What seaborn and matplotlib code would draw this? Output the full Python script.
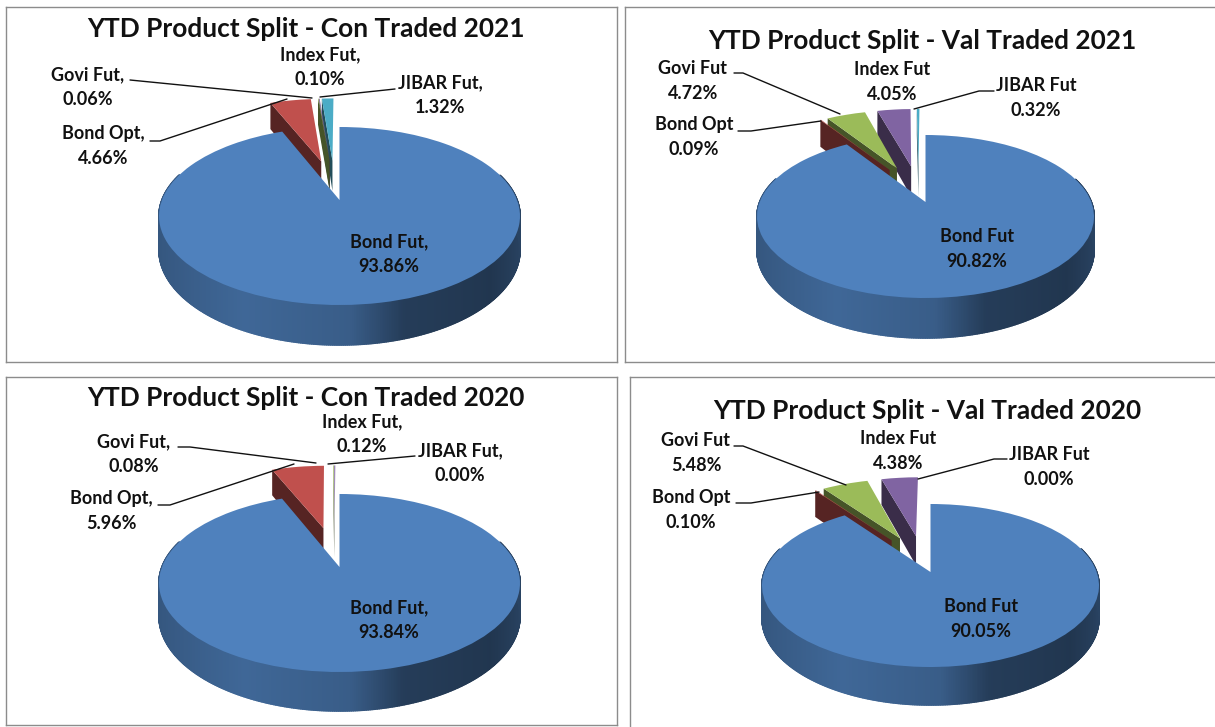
import numpy as np
import matplotlib
matplotlib.use('Agg')
import matplotlib.pyplot as plt
import seaborn as sns
from matplotlib.collections import PolyCollection
from matplotlib.transforms import Transform

products = ['Bond Fut', 'Bond Opt', 'Govi Fut', 'Index Fut', 'JIBAR Fut']
con_2021 = [93.86, 4.66, 0.06, 0.10, 1.32]
val_2021 = [90.82, 0.09, 4.72, 4.05, 0.32]
con_2020 = [93.84, 5.96, 0.08, 0.12, 0.00]
val_2020 = [90.05, 0.10, 5.48, 4.38, 0.00]
titles = ['YTD Product Split - Con Traded 2021', 'YTD Product Split - Val Traded 2021',
          'YTD Product Split - Con Traded 2020', 'YTD Product Split - Val Traded 2020']
colors = ['#4F81BD', '#C0504D', '#9BBB59', '#8064A2', '#4BACC6']
explode = [0.15, 0.35, 0.35, 0.35, 0.35]

# layout em pixels da figura
W, H = 1215, 727
panels = [
    dict(values=con_2021, title=titles[0], comma=True, box=(6, 7, 617, 362), title_xy=(306, 29),
         left=159, right=520, top=127, apex=200, front=305, bottom=345,
         labels=[(389, 254), (103, 146), (88, 87), (320, 67), (440, 95)],
         lines=[[(130, 80), (312, 98)], [(395, 89), (320, 97)], [(150, 141), (160, 141), (287, 99)]]),
    dict(values=val_2021, title=titles[1], comma=False, box=(625, 7, 1220, 362), title_xy=(922, 41),
         left=757, right=1094, top=135, apex=202, front=298, bottom=338,
         labels=[(977, 249), (694, 137), (693, 81), (892, 82), (1036, 98)],
         lines=[[(734, 73), (743, 73), (840, 114)], [(994, 91), (979, 91), (914, 109)],
                [(738, 131), (751, 131), (821, 121)]]),
    dict(values=con_2020, title=titles[2], comma=True, box=(6, 377, 617, 725), title_xy=(306, 398),
         left=159, right=520, top=494, apex=567, front=672, bottom=711,
         labels=[(389, 620), (111, 511), (134, 454), (362, 434), (460, 463)],
         lines=[[(178, 447), (190, 447), (316, 463)], [(415, 456), (328, 464)],
                [(158, 505), (170, 505), (294, 464)]]),
    dict(values=val_2020, title=titles[3], comma=False, box=(630, 377, 1220, 732), title_xy=(927, 411),
         left=762, right=1099, top=504, apex=572, front=667, bottom=705,
         labels=[(981, 619), (691, 510), (696, 453), (898, 451), (1049, 467)],
         lines=[[(734, 446), (743, 446), (846, 485)], [(1007, 459), (994, 459), (918, 479)],
                [(736, 503), (751, 503), (819, 492)]]),
]


class PerspTransform(Transform):
    # leva o disco unitario da pizza para os pixels, com perspectiva
    input_dims = 2
    output_dims = 2
    has_inverse = False

    def __init__(self, cx, cy, a, k, m, drop=0.0):
        super().__init__()
        self.cx, self.cy, self.a, self.k, self.m, self.drop = cx, cy, a, k, m, drop

    def transform_non_affine(self, values):
        xy = np.asarray(values, dtype=float)
        s = 1 / (1 + self.m * xy[:, 1])
        return np.column_stack([self.cx + self.a * xy[:, 0] * s,
                                self.cy - self.k * xy[:, 1] * s + self.drop * s])


def shade(color, f):
    return tuple(np.array(matplotlib.colors.to_rgb(color)) * f)


sns.set_theme(style='white')
plt.rcParams['font.family'] = ['Lato', 'DejaVu Sans']

fig = plt.figure(figsize=(W / 100, H / 100), dpi=100, facecolor='white')

for p in panels:
    x0, y0, x1, y1 = p['box']
    ax = fig.add_axes([x0 / W, 1 - y1 / H, (x1 - x0) / W, (y1 - y0) / H])

    rt = p['apex'] - p['top']
    rb = p['front'] - p['apex']
    m = (rb - rt) / (rb + rt)
    k = rt * (1 + m)
    a = (p['right'] - p['left']) / 2 * np.sqrt(1 - m ** 2)
    cx = (p['right'] + p['left']) / 2
    drop = (p['bottom'] - p['front']) * (1 - m)
    top_tf = PerspTransform(cx, p['apex'], a, k, m)
    low_tf = PerspTransform(cx, p['apex'], a, k, m, drop)

    wedges, _ = ax.pie(p['values'], colors=colors, explode=explode, startangle=90,
                       counterclock=False, frame=True, radius=1,
                       wedgeprops={'linewidth': 0})
    ax.set_aspect('auto')

    # a fatia maior fica no apice medido, as outras andam junto
    bx, by = wedges[0].center
    for w in wedges:
        w.set_center((w.center[0] - bx, w.center[1] - by))

    for i, w in enumerate(wedges):
        w.set_transform(top_tf + ax.transData)
        if i == 0:
            # parede externa da fatia maior, em degrade
            th = np.radians(np.arange(w.theta1, w.theta2, 0.5))
            th = np.append(th, np.radians(w.theta2))
            xs, ys = np.cos(th), np.sin(th)
            up = top_tf.transform(np.column_stack([xs, ys]))
            lo = low_tf.transform(np.column_stack([xs, ys]))
            quads, cols = [], []
            for j in range(len(th) - 1):
                if ys[j] > 0.3 and ys[j + 1] > 0.3:
                    continue
                quads.append([up[j], up[j + 1], lo[j + 1], lo[j]])
                f = np.interp(xs[j], [-1, -0.45, 0.05, 0.3, 0.75, 1], [0.66, 0.80, 0.72, 0.47, 0.42, 0.52])
                cols.append(shade(colors[0], f))
            pc = PolyCollection(quads, facecolors=cols, edgecolors=cols, linewidths=1.2, zorder=10)
            ax.add_collection(pc)
            w.set_zorder(11)
        else:
            # face radial esquerda das fatias destacadas
            z = 7 - i
            t = np.radians(w.theta2)
            cxw, cyw = w.center
            pts = np.array([[cxw, cyw], [cxw + np.cos(t), cyw + np.sin(t)]])
            up = top_tf.transform(pts)
            lo = low_tf.transform(pts)
            if p['values'][i] > 0:
                ax.fill([up[0, 0], up[1, 0], lo[1, 0], lo[0, 0]], [up[0, 1], up[1, 1], lo[1, 1], lo[0, 1]],
                        color=shade(colors[i], 0.45), linewidth=0, zorder=z)
            w.set_zorder(z + 0.5)

    for line in p['lines']:
        ax.plot([q[0] for q in line], [q[1] for q in line], color='#111111', lw=1.0, zorder=12)

    for name, val, (tx, ty) in zip(products, p['values'], p['labels']):
        sep = ',' if p['comma'] else ''
        ax.text(tx, ty, f'{name}{sep}\n{val:.2f}%', ha='center', va='center', fontsize=13,
                fontweight='bold', color='#111111', linespacing=1.6, zorder=13)

    ax.text(p['title_xy'][0], p['title_xy'][1], p['title'], ha='center', va='center', fontsize=18.9,
            fontweight='bold', color='#111111', zorder=13)

    ax.set_xlim(x0, x1)
    ax.set_ylim(y1, y0)
    ax.set_xticks([])
    ax.set_yticks([])
    for s in ax.spines.values():
        s.set_visible(True)
        s.set_color('#8C8C8C')
        s.set_linewidth(1.0)

plt.savefig('out.png', dpi=100, facecolor='white')
